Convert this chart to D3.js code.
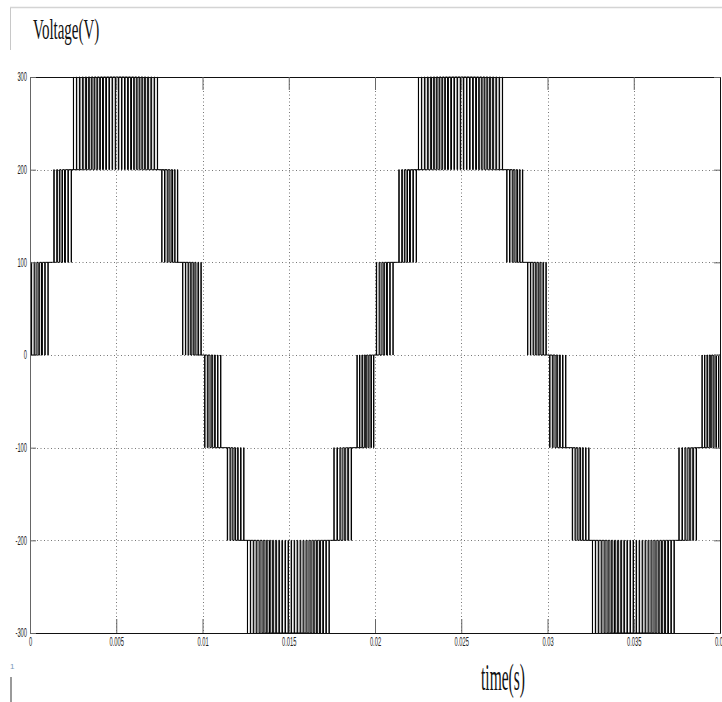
<!DOCTYPE html>
<html><head><meta charset="utf-8">
<script src="https://cdn.jsdelivr.net/npm/d3@7"></script>
<style>body{margin:0;background:#fff} svg{display:block}</style>
</head><body>
<svg id="chart" width="722" height="702"></svg>
<script>
// ---- data ----
const xTickValues = [0, 0.005, 0.01, 0.015, 0.02, 0.025, 0.03, 0.035, 0.04];
const xTickLabels = ["0", "0.005", "0.01", "0.015", "0.02", "0.025", "0.03", "0.035", "0.04"];
const yTickValues = [-300, -200, -100, 0, 100, 200, 300];
const yTickLabels = ["-300", "-200", "-100", "0", "100", "200", "300"];

// start of each fundamental cycle shown
const cycleStart = [0, 0.02];
// PWM band segments within one cycle (s) and the two levels switched between (V)
const segStart = [0, 0.0013, 0.00243, 0.00764, 0.00885, 0.01005, 0.01136, 0.01252, 0.01762, 0.01896];
const segEnd   = [0.00105, 0.0024, 0.00748, 0.00864, 0.01, 0.01106, 0.0124, 0.01743, 0.01872, 0.02];
const segLow   = [0, 100, 200, 100, 0, -100, -200, -300, -200, -100];
const segHigh  = [100, 200, 300, 200, 100, 0, -100, -200, -100, 0];
// estimated duty (share of each carrier period spent on the outer level)
const segDuty = [
  [0.1, 0.27, 0.45, 0.62, 0.78, 0.92],
  [0.12, 0.3, 0.47, 0.63, 0.78, 0.9],
  [0.04, 0.11, 0.19, 0.27, 0.35, 0.42, 0.49, 0.56, 0.62, 0.68, 0.73, 0.77, 0.81, 0.84, 0.86, 0.85, 0.82, 0.78, 0.73, 0.68, 0.62, 0.55, 0.48, 0.41, 0.33, 0.25, 0.16, 0.07],
  [0.9, 0.76, 0.6, 0.44, 0.28, 0.12],
  [0.93, 0.8, 0.66, 0.52, 0.38, 0.24, 0.1],
  [0.1, 0.27, 0.45, 0.62, 0.78, 0.92],
  [0.12, 0.3, 0.47, 0.63, 0.78, 0.9],
  [0.04, 0.11, 0.19, 0.27, 0.35, 0.42, 0.49, 0.56, 0.62, 0.68, 0.73, 0.77, 0.81, 0.84, 0.86, 0.85, 0.82, 0.78, 0.73, 0.68, 0.62, 0.55, 0.48, 0.41, 0.33, 0.25, 0.16, 0.07],
  [0.9, 0.76, 0.6, 0.44, 0.28, 0.12],
  [0.93, 0.8, 0.66, 0.52, 0.38, 0.24, 0.1]
];

const titleText = "Voltage(V)";
const xTitleText = "time(s)";

// ---- layout ----
const svg = d3.select("#chart");
const pLeft = 30, pRight = 720, pTop = 77, pBottom = 633;
const x = d3.scaleLinear().domain([0, 0.04]).range([pLeft, pRight]);
const y = d3.scaleLinear().domain([-300, 300]).range([pBottom, pTop]);

// frame artefacts of the screenshot
svg.append("line").attr("x1", 10).attr("x2", 722).attr("y1", 7.5).attr("y2", 7.5)
  .attr("stroke", "#d4d4d4").attr("stroke-width", 1.5);
svg.append("line").attr("x1", 10.5).attr("x2", 10.5).attr("y1", 8).attr("y2", 50)
  .attr("stroke", "#c8c8c8").attr("stroke-width", 1);
svg.append("text").attr("x", 10).attr("y", 669).text("1")
  .attr("font-family", "Liberation Sans").attr("font-size", 8).attr("fill", "#7a9ab8");
svg.append("rect").attr("x", 10).attr("y", 677).attr("width", 2).attr("height", 25).attr("fill", "#9a9a9a");

// titles
svg.append("text").attr("transform", "translate(33,39) scale(0.5,1)")
  .attr("font-family", "Liberation Serif").attr("font-size", 30).attr("fill", "#111")
  .text(titleText);
svg.append("text").attr("transform", "translate(481,690) scale(0.42,1)")
  .attr("font-family", "Liberation Serif").attr("font-size", 37).attr("fill", "#111")
  .text(xTitleText);

// grid
const grid = svg.append("g").attr("stroke", "#777").attr("stroke-dasharray", "1,2.5").attr("stroke-width", 1);
grid.selectAll("line.gx").data(xTickValues.slice(1, -1)).join("line").attr("class", "gx")
  .attr("x1", d => Math.round(x(d)) + 0.5).attr("x2", d => Math.round(x(d)) + 0.5)
  .attr("y1", pTop).attr("y2", pBottom);
grid.selectAll("line.gy").data(yTickValues.slice(1, -1)).join("line").attr("class", "gy")
  .attr("y1", d => Math.round(y(d)) + 0.5).attr("y2", d => Math.round(y(d)) + 0.5)
  .attr("x1", pLeft).attr("x2", pRight);

// waveform
const pts = [[0, 0]];
cycleStart.forEach(c0 => {
  segStart.forEach((s, k) => {
    const t0 = c0 + s, t1 = c0 + segEnd[k];
    const lo = segLow[k], hi = segHigh[k];
    const outer = Math.abs(hi) > Math.abs(lo) ? hi : lo;
    const inner = outer === hi ? lo : hi;
    const nk = (k + 1) % segStart.length;
    const hold = [segLow[nk], segHigh[nk]].find(v => v === lo || v === hi);
    const duties = segDuty[k];
    const T = (t1 - t0) / duties.length;
    duties.forEach((d, i) => {
      const a = t0 + i * T, c = a + T / 2, h = d * T / 2;
      pts.push([a, inner], [c - h, outer], [c + h, inner]);
    });
    pts.push([t1, hold]);
  });
});
pts.push([0.04, 0]);

svg.append("defs").append("clipPath").attr("id", "clip")
  .append("rect").attr("x", pLeft).attr("y", pTop - 1).attr("width", pRight - pLeft).attr("height", pBottom - pTop + 2);

const line = d3.line().x(d => x(d[0])).y(d => y(d[1])).curve(d3.curveStepAfter);
svg.append("path").datum(pts).attr("clip-path", "url(#clip)")
  .attr("d", line).attr("fill", "none").attr("stroke", "#000").attr("stroke-width", 1);

// axes
const xAxis = d3.axisBottom(x).tickValues(xTickValues)
  .tickFormat((d, i) => xTickLabels[i]).tickSizeInner(-14).tickSizeOuter(0).tickPadding(4);
const gx = svg.append("g").attr("transform", `translate(0,${pBottom})`).call(xAxis);
const xTop = d3.axisTop(x).tickValues(xTickValues).tickFormat("").tickSizeInner(-13).tickSizeOuter(0);
const gxt = svg.append("g").attr("transform", `translate(0,${pTop})`).call(xTop);
const yAxis = d3.axisLeft(y).tickValues(yTickValues)
  .tickFormat((d, i) => yTickLabels[i]).tickSizeInner(-6).tickSizeOuter(0).tickPadding(3);
const gy = svg.append("g").attr("transform", `translate(${pLeft},0)`).call(yAxis);
const yRight = d3.axisRight(y).tickValues(yTickValues).tickFormat("").tickSizeInner(-6).tickSizeOuter(0);
const gyr = svg.append("g").attr("transform", `translate(${pRight},0)`).call(yRight);

[gx, gxt, gy, gyr].forEach(g => {
  g.select(".domain").attr("stroke", "#111");
  g.selectAll(".tick line").attr("stroke", "#666");
});
gy.select(".domain").attr("stroke", "#666");
const sx = 0.48;
gx.selectAll(".tick text")
  .attr("font-family", "Liberation Sans").attr("font-size", 12).attr("fill", "#222")
  .attr("transform", `scale(${sx},1)`);
gy.selectAll(".tick text")
  .attr("font-family", "Liberation Sans").attr("font-size", 12).attr("fill", "#222")
  .attr("x", -3 / sx).attr("transform", `scale(${sx},1)`);
</script>
</body></html>
